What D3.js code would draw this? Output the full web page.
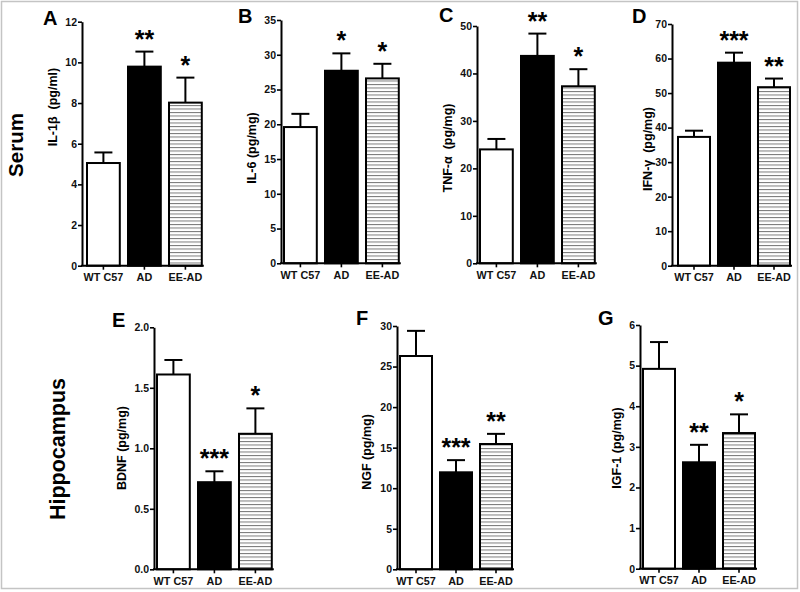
<!DOCTYPE html>
<html><head><meta charset="utf-8">
<script src="https://cdn.jsdelivr.net/npm/d3@7"></script>
<style>
html,body{margin:0;padding:0;background:#fff;}
svg{display:block;font-family:"Liberation Sans",Arial,sans-serif;}
text{white-space:pre;}
</style></head>
<body><svg id="c" width="800" height="592"></svg>
<script>
const categories = ["WT C57", "AD", "EE-AD"];

const il1bMean = [5.05, 9.79, 8.02], il1bErr = [0.52, 0.74, 1.23], il1bStars = ["", "**", "*"];
const il6Mean = [19.6, 27.7, 26.6], il6Err = [1.9, 2.5, 2.1], il6Stars = ["", "*", "*"];
const tnfMean = [24.0, 43.7, 37.3], tnfErr = [2.2, 4.7, 3.6], tnfStars = ["", "**", "*"];
const ifnMean = [37.3, 58.8, 51.7], ifnErr = [1.8, 2.9, 2.5], ifnStars = ["", "***", "**"];
const bdnfMean = [1.61, 0.72, 1.12], bdnfErr = [0.12, 0.09, 0.21], bdnfStars = ["", "***", "*"];
const ngfMean = [26.3, 11.96, 15.45], ngfErr = [3.1, 1.5, 1.25], ngfStars = ["", "***", "**"];
const igfMean = [4.92, 2.62, 3.34], igfErr = [0.66, 0.43, 0.46], igfStars = ["", "**", "*"];

const yMax = {A: 12, B: 35, C: 50, D: 70, E: 2, F: 30, G: 6};
const yStep = {A: 2, B: 5, C: 10, D: 10, E: 0.5, F: 5, G: 1};
const yLabels = {A: "IL-1\u03b2  (pg/ml)", B: "IL-6 (pg/mg)", C: "TNF-\u03b1  (pg/mg)", D: "IFN-\u03b3  (pg/mg)",
                 E: "BDNF (pg/mg)", F: "NGF (pg/mg)", G: "IGF-1 (pg/mg)"};
const rowLabels = ["Serum", "Hippocampus"];

const svg = d3.select("#c");
svg.append("rect").attr("x", 1.5).attr("y", 1.5).attr("width", 796).attr("height", 587)
  .attr("fill", "#fff").attr("stroke", "#c4c4c4").attr("stroke-width", 1.5);

const defs = svg.append("defs");
const pat = defs.append("pattern").attr("id", "hatch").attr("patternUnits", "userSpaceOnUse")
  .attr("width", 8).attr("height", 3.5);
pat.append("rect").attr("width", 8).attr("height", 3.5).attr("fill", "#fff");
pat.append("rect").attr("y", 0).attr("width", 8).attr("height", 1).attr("fill", "#777");

// layout (pixels) per panel
const panels = [
  {id: "A", mean: il1bMean, err: il1bErr, stars: il1bStars, ax: 82, yt: 21.7, yb: 265.7, bs: 87, st: 41, lx: 43, ly: 25, tx: 57, ty: 107, fmt: d3.format("d")},
  {id: "B", mean: il6Mean, err: il6Err, stars: il6Stars, ax: 281, yt: 20, yb: 263.3, bs: 284, st: 41, lx: 238, ly: 23, tx: 256, ty: 148, fmt: d3.format("d")},
  {id: "C", mean: tnfMean, err: tnfErr, stars: tnfStars, ax: 477, yt: 26, yb: 263.3, bs: 480, st: 41, lx: 439, ly: 22, tx: 452, ty: 148, fmt: d3.format("d")},
  {id: "D", mean: ifnMean, err: ifnErr, stars: ifnStars, ax: 672, yt: 24, yb: 265.7, bs: 678, st: 40, lx: 632, ly: 23, tx: 652, ty: 149, fmt: d3.format("d")},
  {id: "E", mean: bdnfMean, err: bdnfErr, stars: bdnfStars, ax: 154, yt: 327.3, yb: 569.3, bs: 157, st: 41, lx: 112, ly: 327, tx: 126, ty: 448, fmt: d3.format(".1f")},
  {id: "F", mean: ngfMean, err: ngfErr, stars: ngfStars, ax: 397, yt: 326, yb: 569.3, bs: 400, st: 40, lx: 356, ly: 325, tx: 371, ty: 452, fmt: d3.format("d")},
  {id: "G", mean: igfMean, err: igfErr, stars: igfStars, ax: 640, yt: 325, yb: 568.7, bs: 643, st: 40, lx: 598, ly: 325, tx: 621, ty: 448, fmt: d3.format("d")}
];
const fills = ["#fff", "#000", "url(#hatch)"];

panels.forEach(p => {
  const g = svg.append("g");
  const y = d3.scaleLinear().domain([0, yMax[p.id]]).range([p.yb, p.yt]);
  const off = 0.1 * p.st;
  const x = d3.scaleBand().domain(categories).range([p.bs - off, p.bs - off + 3 * p.st])
    .paddingInner(0.2).paddingOuter(0.1);

  const rows = categories.map((c, i) => ({c, m: p.mean[i], e: p.err[i], s: p.stars[i], f: fills[i]}));

  // error bars (upper only)
  g.selectAll(".eb").data(rows).enter().append("line")
    .attr("x1", d => x(d.c) + x.bandwidth() / 2).attr("x2", d => x(d.c) + x.bandwidth() / 2)
    .attr("y1", d => y(d.m)).attr("y2", d => y(d.m + d.e))
    .attr("stroke", "#000").attr("stroke-width", 2);
  g.selectAll(".cap").data(rows).enter().append("line")
    .attr("x1", d => x(d.c) + x.bandwidth() / 2 - 9).attr("x2", d => x(d.c) + x.bandwidth() / 2 + 9)
    .attr("y1", d => y(d.m + d.e)).attr("y2", d => y(d.m + d.e))
    .attr("stroke", "#000").attr("stroke-width", 2);

  // bars
  g.selectAll(".bar").data(rows).enter().append("rect")
    .attr("x", d => x(d.c)).attr("width", x.bandwidth())
    .attr("y", d => y(d.m)).attr("height", d => y(0) - y(d.m))
    .attr("fill", d => d.f).attr("stroke", "#000").attr("stroke-width", 2);

  // stars
  g.selectAll(".star").data(rows.filter(d => d.s)).enter().append("text")
    .attr("x", d => x(d.c) + x.bandwidth() / 2).attr("y", d => y(d.m + d.e) - 4)
    .attr("text-anchor", "middle").attr("font-size", 25).attr("font-weight", "bold").text(d => d.s);

  // y axis
  const ticks = d3.range(0, yMax[p.id] + yStep[p.id] / 2, yStep[p.id]);
  const ya = g.append("g").attr("transform", `translate(${p.ax},0)`)
    .call(d3.axisLeft(y).tickValues(ticks).tickFormat(p.fmt).tickSize(4).tickSizeOuter(0).tickPadding(1));
  ya.select(".domain").attr("stroke-width", 2);
  ya.selectAll(".tick line").attr("stroke-width", 1.6);
  ya.selectAll("text").attr("font-size", 10.5).attr("font-weight", "bold").attr("fill", "#111")
    .attr("font-family", "Liberation Sans, Arial, sans-serif");

  // x axis
  const xa = g.append("g").attr("transform", `translate(0,${p.yb})`)
    .call(d3.axisBottom(x).tickSize(4).tickSizeOuter(0).tickPadding(2));
  xa.select(".domain").remove();
  xa.selectAll(".tick line").attr("stroke-width", 1.6);
  xa.selectAll("text").attr("font-size", 10.8).attr("font-weight", "bold").attr("fill", "#111")
    .attr("font-family", "Liberation Sans, Arial, sans-serif").attr("dy", "0.9em");
  g.append("line").attr("x1", p.ax - 1).attr("x2", x.range()[1] - off + 2)
    .attr("y1", p.yb).attr("y2", p.yb).attr("stroke", "#000").attr("stroke-width", 2);

  // y title
  g.append("text").attr("transform", `translate(${p.tx},${p.ty}) rotate(-90)`)
    .attr("text-anchor", "middle").attr("font-size", 12.5).attr("font-weight", "bold").text(yLabels[p.id]);

  // panel letter
  g.append("text").attr("x", p.lx).attr("y", p.ly).attr("font-size", 20).attr("font-weight", "bold").text(p.id);
});

// row labels
svg.append("text").attr("transform", "translate(23,145) rotate(-90)").attr("text-anchor", "middle")
  .attr("font-size", 20.5).attr("font-weight", "bold").text(rowLabels[0]);
svg.append("text").attr("transform", "translate(65,449) rotate(-90)").attr("text-anchor", "middle")
  .attr("font-size", 21.5).attr("font-weight", "bold").text(rowLabels[1]);
</script></body></html>
